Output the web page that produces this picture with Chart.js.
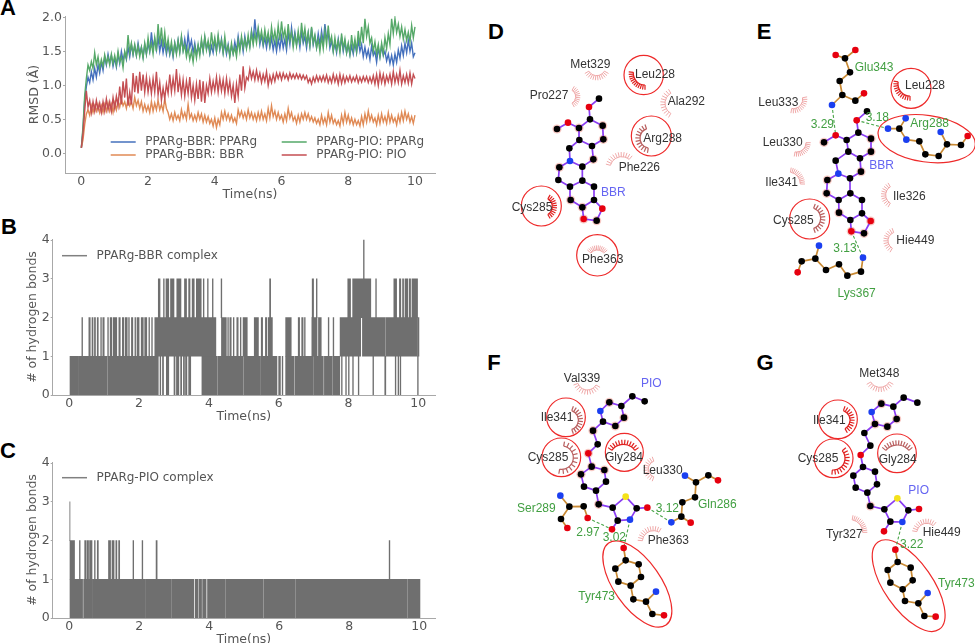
<!DOCTYPE html>
<html>
<head>
<meta charset="utf-8">
<title>PPARg complexes</title>
<script src="https://cdn.jsdelivr.net/npm/chart.js@4/dist/chart.umd.min.js"></script>
<style>
  html, body { margin: 0; padding: 0; background: #fff; width: 975px; height: 643px; overflow: hidden; }
  canvas { position: absolute; filter: blur(0.6px); }
  .letter { position: absolute; font: bold 22px "Liberation Sans", sans-serif; color: #000; line-height: 1; transform: translate(-50%, -50%); }
</style>
</head>
<body>
<div class="letter" style="left:8px;top:8px">A</div>
<div class="letter" style="left:9px;top:227px">B</div>
<div class="letter" style="left:8px;top:451px">C</div>
<div class="letter" style="left:496px;top:32px">D</div>
<div class="letter" style="left:764px;top:32px">E</div>
<div class="letter" style="left:494px;top:363px">F</div>
<div class="letter" style="left:765px;top:363px">G</div>

<canvas id="chartA" width="460" height="208" style="left:0;top:0"></canvas>
<canvas id="chartB" width="460" height="215" style="left:0;top:215px"></canvas>
<canvas id="chartC" width="460" height="210" style="left:0;top:440px"></canvas>
<canvas id="chartD" width="230" height="280" style="left:480px;top:10px"></canvas>
<canvas id="chartE" width="230" height="300" style="left:745px;top:10px"></canvas>
<canvas id="chartF" width="260" height="298" style="left:480px;top:345px"></canvas>
<canvas id="chartG" width="230" height="298" style="left:745px;top:345px"></canvas>

<script>
// RMSD (A), one value every 0.05 ns
const rmsdBbrProtein = [
  0.08,0.35,0.78,0.98,1.12,1.04,1.2,1.08,1.25,1.12,
  1.3,1.18,1.34,1.22,1.42,1.3,1.46,1.33,1.44,1.28,
  1.4,1.27,1.46,1.32,1.5,1.36,1.48,1.38,1.56,1.42,
  1.6,1.45,1.58,1.44,1.62,1.47,1.56,1.42,1.6,1.46,
  1.62,1.5,1.78,1.55,1.68,1.52,1.7,1.5,1.65,1.48,
  1.62,1.46,1.6,1.45,1.58,1.42,1.62,1.48,1.66,1.5,
  1.7,1.52,1.68,1.5,1.75,1.55,1.66,1.48,1.62,1.45,
  1.58,1.48,1.64,1.5,1.7,1.54,1.62,1.46,1.58,1.48,
  1.66,1.5,1.7,1.52,1.68,1.48,1.62,1.46,1.6,1.44,
  1.58,1.47,1.64,1.5,1.72,1.55,1.68,1.5,1.72,1.56,
  1.68,1.58,1.8,1.64,1.97,1.7,1.82,1.6,1.74,1.58,
  1.7,1.55,1.72,1.56,1.7,1.52,1.66,1.5,1.68,1.54,
  1.72,1.55,1.68,1.52,1.78,1.6,1.85,1.62,1.78,1.6,
  1.74,1.56,1.8,1.62,1.72,1.55,1.76,1.58,1.84,1.6,
  1.72,1.56,1.76,1.6,1.8,1.62,1.9,1.68,1.78,1.55,
  1.66,1.5,1.62,1.48,1.68,1.52,1.7,1.5,1.64,1.48,
  1.6,1.45,1.58,1.46,1.62,1.48,1.66,1.5,1.6,1.42,
  1.56,1.42,1.52,1.38,1.58,1.44,1.5,1.34,1.55,1.42,
  1.58,1.44,1.5,1.36,1.46,1.32,1.44,1.3,1.46,1.34,
  1.52,1.4,1.58,1.44,1.62,1.48,1.66,1.5,1.62,1.42,
  1.48
];
const rmsdBbrLigand = [
  0.08,0.2,0.42,0.58,0.64,0.56,0.7,0.6,0.7,0.62,
  0.72,0.6,0.7,0.6,0.72,0.62,0.74,0.62,0.72,0.6,
  0.74,0.64,0.78,0.68,0.8,0.7,0.76,0.66,0.8,0.7,
  0.76,0.66,0.82,0.7,0.78,0.66,0.76,0.62,0.72,0.62,
  0.7,0.6,0.76,0.62,0.74,0.64,0.78,0.64,0.72,0.62,
  0.8,0.66,0.6,0.5,0.58,0.48,0.6,0.5,0.56,0.48,
  0.64,0.52,0.6,0.5,0.72,0.52,0.58,0.48,0.56,0.48,
  0.6,0.5,0.58,0.46,0.56,0.46,0.54,0.44,0.5,0.4,
  0.52,0.38,0.5,0.42,0.6,0.5,0.62,0.5,0.58,0.48,
  0.56,0.46,0.52,0.44,0.64,0.54,0.62,0.52,0.6,0.5,
  0.64,0.52,0.6,0.5,0.58,0.48,0.6,0.5,0.62,0.5,
  0.58,0.48,0.66,0.52,0.7,0.54,0.62,0.5,0.6,0.5,
  0.56,0.46,0.58,0.48,0.66,0.52,0.6,0.48,0.54,0.44,
  0.56,0.46,0.58,0.5,0.6,0.5,0.58,0.48,0.54,0.46,
  0.52,0.44,0.5,0.42,0.56,0.44,0.52,0.42,0.6,0.46,
  0.56,0.44,0.5,0.42,0.48,0.4,0.56,0.44,0.6,0.46,
  0.56,0.44,0.52,0.42,0.5,0.42,0.48,0.4,0.54,0.42,
  0.58,0.46,0.62,0.48,0.56,0.46,0.52,0.42,0.56,0.44,
  0.58,0.46,0.54,0.44,0.6,0.46,0.56,0.46,0.52,0.42,
  0.56,0.46,0.6,0.48,0.62,0.5,0.58,0.46,0.54,0.44,
  0.56
];
const rmsdPioProtein = [
  0.08,0.4,0.85,1.1,1.3,1.22,1.35,1.25,1.48,1.3,
  1.42,1.25,1.38,1.28,1.45,1.32,1.42,1.3,1.46,1.32,
  1.44,1.3,1.5,1.34,1.42,1.26,1.5,1.4,1.74,1.48,
  1.62,1.46,1.6,1.44,1.58,1.42,1.56,1.4,1.62,1.46,
  1.7,1.5,1.62,1.46,1.7,1.5,1.9,1.6,1.85,1.56,
  1.78,1.52,1.68,1.48,1.64,1.45,1.62,1.46,1.66,1.48,
  1.72,1.5,1.6,1.42,1.55,1.38,1.5,1.34,1.56,1.4,
  1.6,1.44,1.68,1.5,1.72,1.52,1.66,1.5,1.78,1.56,
  1.7,1.5,1.74,1.54,1.66,1.48,1.72,1.5,1.58,1.42,
  1.62,1.46,1.56,1.42,1.66,1.5,1.72,1.55,1.68,1.54,
  1.74,1.56,1.78,1.6,1.76,1.62,1.84,1.66,1.8,1.62,
  1.82,1.64,1.78,1.6,1.86,1.66,1.8,1.62,1.88,1.66,
  1.94,1.7,1.82,1.62,1.9,1.66,1.78,1.56,1.74,1.58,
  1.8,1.6,1.92,1.68,1.84,1.62,1.78,1.58,1.86,1.62,
  1.74,1.55,1.68,1.5,1.72,1.54,1.8,1.6,1.88,1.62,
  1.72,1.5,1.7,1.52,1.66,1.48,1.76,1.54,1.68,1.48,
  1.62,1.46,1.74,1.52,1.68,1.5,1.8,1.58,1.86,1.62,
  1.98,1.72,1.86,1.62,1.7,1.5,1.64,1.46,1.6,1.42,
  1.62,1.46,1.7,1.54,1.76,1.6,1.98,1.76,1.98,1.78,
  1.9,1.72,1.86,1.68,1.82,1.66,1.78,1.64,1.88,1.7,
  1.86
];
const rmsdPioLigand = [
  0.08,0.3,0.62,0.92,0.68,0.78,0.6,0.76,0.62,0.78,
  0.64,0.74,0.6,0.76,0.62,0.8,0.64,0.76,0.62,0.82,
  0.66,0.84,0.7,0.98,0.72,1.06,0.82,1.1,0.7,0.9,
  0.72,1.18,0.9,1.14,0.88,1.2,0.92,1.16,0.9,1.12,
  0.9,1.08,0.88,1.1,0.9,1.2,0.86,1.04,0.78,0.96,
  0.8,1.02,0.88,1.16,0.9,1.1,0.92,1.24,0.9,1.1,
  0.86,1.08,0.84,1.06,0.88,1.12,0.82,1.0,0.78,1.02,
  0.8,1.08,0.76,1.06,0.74,1.0,0.88,1.1,0.9,1.06,
  0.92,1.12,0.9,1.1,0.92,1.08,0.88,1.1,0.9,1.06,
  0.84,1.0,0.74,1.02,0.84,1.16,0.92,1.28,0.96,1.12,
  1.08,1.24,1.1,1.2,1.08,1.22,1.08,1.18,1.04,1.16,
  1.06,1.2,1.0,1.14,1.04,1.16,1.06,1.18,1.1,1.18,
  1.08,1.18,1.1,1.16,1.08,1.18,1.1,1.16,1.1,1.17,
  1.1,1.16,1.09,1.15,1.09,1.14,1.04,1.1,1.02,1.12,
  1.05,1.14,1.06,1.13,1.06,1.14,1.06,1.15,1.04,1.12,
  1.04,1.16,1.05,1.14,1.02,1.16,1.03,1.14,1.04,1.13,
  1.06,1.14,1.05,1.12,1.06,1.14,1.04,1.12,1.05,1.13,
  1.06,1.13,1.04,1.12,1.04,1.14,1.02,1.16,1.0,1.18,
  1.04,1.16,1.02,1.14,1.05,1.16,1.02,1.2,1.04,1.16,
  1.04,1.22,1.02,1.14,1.04,1.16,1.03,1.18,1.02,1.16,
  1.1
];
const rmsdStep = 0.05;

const timeTicks = [0, 2, 4, 6, 8, 10];
const rmsdTicks = [0, 0.5, 1, 1.5, 2];
const bondTicks = [0, 1, 2, 3, 4];

// hydrogen bond counts: stretches of time [from, to] (ns) the trajectory spends in each band
const bbrBand01 = [[0.02,0.24],[0.26,1.08],[1.1,2.55],[2.6,2.62],[2.67,2.7],[2.78,2.85],[3.0,3.03],[3.07,3.14],[3.19,3.22],[3.27,3.3],[3.33,3.37],[3.42,3.48],[3.8,4.24],[4.26,4.98],[5.0,5.48],[5.5,5.95],[6.0,6.05],[6.1,6.12],[6.2,6.43],[6.46,6.98],[7.0,7.28],[7.31,7.53],[7.55,7.75],[7.8,7.82],[7.92,7.94],[8.0,8.02],[8.12,8.14],[8.28,8.3],[8.7,8.72],[9.04,9.07],[9.34,9.36],[9.42,9.44],[9.48,9.5],[9.98,10.0]];
const bbrBand12 = [[0.36,0.38],[0.56,0.6],[0.65,0.68],[0.72,0.75],[0.8,0.83],[0.9,0.92],[0.96,1.0],[1.1,1.12],[1.17,1.22],[1.26,1.36],[1.42,1.46],[1.52,1.56],[1.6,1.66],[1.7,1.72],[1.78,1.82],[1.88,1.9],[1.94,2.0],[2.06,2.12],[2.16,2.22],[2.28,2.3],[2.36,2.38],[2.45,4.2],[4.36,4.5],[4.54,4.56],[4.6,4.64],[4.7,4.72],[4.8,4.84],[4.9,4.92],[4.98,5.1],[5.3,5.42],[5.5,5.54],[5.62,5.66],[5.7,5.82],[6.2,6.36],[6.56,6.6],[6.66,6.7],[6.74,6.76],[6.95,7.1],[7.14,7.22],[7.42,7.44],[7.56,7.58],[7.76,8.35],[8.4,9.05],[9.07,9.98],[10.0,10.02]];
const bbrBand23 = [[2.55,2.6],[2.7,2.72],[2.77,2.85],[2.9,3.0],[3.08,3.2],[3.3,3.36],[3.42,3.46],[3.52,3.58],[3.64,3.78],[3.84,3.86],[3.96,3.98],[4.1,4.12],[4.35,4.37],[5.74,5.77],[6.96,7.0],[7.08,7.1],[7.98,8.06],[8.12,8.64],[8.78,8.8],[9.3,9.38],[9.46,9.5],[9.55,9.58],[9.62,9.7],[9.74,9.78],[9.82,9.98]];
const bbrBand34 = [[8.43,8.45]];
const pioBand01 = [[0.02,0.38],[0.41,0.64],[0.66,2.18],[2.2,2.92],[2.94,3.56],[3.6,3.68],[3.71,3.78],[3.81,3.91],[3.95,4.46],[4.48,5.54],[5.56,6.46],[6.48,9.66],[9.68,10.02]];
const pioBand12 = [[0.02,0.15],[0.29,0.31],[0.44,0.47],[0.5,0.55],[0.58,0.65],[0.72,0.74],[0.8,0.83],[1.12,1.18],[1.22,1.28],[1.33,1.36],[1.41,1.44],[1.82,1.84],[2.08,2.1],[2.48,2.51],[9.14,9.16]];
const pioBand23 = [[0.0,0.02]];

// legend names
const rmsdNames = ['PPARg-BBR: PPARg', 'PPARg-BBR: BBR', 'PPARg-PIO: PPARg', 'PPARg-PIO: PIO'];
const bbrComplexName = 'PPARg-BBR complex';
const pioComplexName = 'PPARg-PIO complex';

// ligand/residue diagrams: atoms as [x, y, element] in each diagram's own units
const dLigandAtoms = [[357,266,'c'],[327,291,'o'],[330,328,'c'],[368,347,'c'],[370,388,'c'],[336,408,'c'],[298,390,'c'],[297,354,'c'],[264,338,'o'],[231,357,'c'],[268,415,'c'],[340,448,'c'],[307,470,'c'],[270,453,'n'],[238,472,'c'],[235,510,'c'],[270,530,'c'],[307,512,'c'],[342,530,'c'],[342,570,'c'],[307,592,'c'],[272,570,'c'],[367,596,'o'],[350,632,'c'],[311,627,'o']];
const berberineBonds = [[0,1],[1,2],[2,3],[3,4],[4,5],[5,6],[6,7],[7,2],[7,8],[8,9],[6,10],[5,11],[11,12],[12,13],[13,10],[13,14],[14,15],[15,16],[16,17],[17,12],[17,18],[18,19],[19,20],[20,21],[21,16],[19,22],[22,23],[23,24],[24,20]];
const dHalo = [3,4,7,9,14,20,21,23,24,11];
const dRings = [[491,195,59,59,0],[514,378,60,60,0],[184,588,60,60,0],[352,736,62,62,0]];
const dArcs = [[350,170,27,30,150,'pale'],[495,190,35,90,185,'strong'],[590,280,35,120,240,'pale'],[265,260,22,-60,60,'pale'],[510,385,30,100,250,'mid'],[425,475,35,195,310,'pale'],[190,590,27,-60,60,'strong'],[352,745,25,220,320,'pale']];
const dResidues = [['Met329',331,165],['Leu228',525,194],['Pro227',207,257],['Ala292',619,274],['Arg288',548,385],['Phe226',478,474],['Cys285',156,593],['Phe363',368,748]];
const dLigandName = [['BBR',400,548]];

const eLigandAtoms = [[366,304,'c'],[335,331,'o'],[340,368,'c'],[378,386,'c'],[378,425,'c'],[345,445,'c'],[310,425,'c'],[305,390,'c'],[272,376,'o'],[237,397,'c'],[272,452,'c'],[348,485,'c'],[315,505,'c'],[280,491,'n'],[247,510,'c'],[245,550,'c'],[281,570,'c'],[316,550,'c'],[351,570,'c'],[351,610,'c'],[316,630,'c'],[282,608,'c'],[377,633,'o'],[357,670,'c'],[319,664,'o']];
const eHalo = [3,4,9,14,15,21,23,24,22,11];
const eResidueAtoms = [[272,135,'o'],[331,120,'o'],[300,145,'c'],[315,187,'c'],[284,213,'c'],[292,255,'c'],[331,272,'c'],[357,250,'o'],[261,285,'n'],
  [429,356,'n'],[463,356,'c'],[482,325,'n'],[484,389,'n'],[523,394,'c'],[541,433,'c'],[581,438,'c'],[606,403,'c'],[587,366,'n'],[648,405,'c'],[668,378,'o'],
  [354,743,'n'],[348,785,'c'],[307,797,'c'],[282,763,'c'],[243,780,'c'],[211,746,'c'],[222,707,'n'],[170,754,'c'],[158,787,'o']];
const eResidueBonds = [[0,2],[1,2],[2,3],[3,4],[4,5],[5,6],[6,7],[5,8],
  [9,10],[10,11],[10,12],[12,13],[13,14],[14,15],[15,16],[16,17],[16,18],[18,19],
  [20,21],[21,22],[22,23],[23,24],[24,25],[25,26],[25,27],[27,28]];
const eHBonds = [[[261,285],[272,376]],[[335,331],[429,356]],[[319,664],[354,743]]];
const eRings = [[498,235,60,60,0],[194,627,60,60,0],[545,386,147,70,8]];
const eArcs = [[495,222,36,90,190,'strong'],[145,268,28,-10,100,'pale'],[155,398,28,0,100,'pale'],[130,522,36,-80,0,'pale'],[450,555,28,120,240,'pale'],[455,692,26,120,250,'pale'],[195,625,32,-70,70,'mid']];
const eResidues = [['Leu228',540,226],['Leu333',100,277],['Leu330',113,398],['Ile341',110,519],['Cys285',145,632],['Ile326',493,559],['Hie449',511,691]];
const eContacts = [['3.29',232,345],['3.18',397,323],['3.13',300,715],['Glu343',387,173],['Arg288',554,340],['Lys367',335,851]];
const eLigandName = [['BBR',410,468]];

const fLigandAtoms = [[494,169,'c'],[457,154,'c'],[424,183,'c'],[432,218,'c'],[406,243,'c'],[369,230,'c'],[361,198,'n'],[388,172,'c'],[339,257,'c'],[353,298,'c'],[325,325,'o'],[335,365,'c'],[373,375,'c'],[378,410,'c'],[348,437,'c'],[312,425,'c'],[303,388,'c'],[356,478,'c'],[398,488,'c'],[437,455,'s'],[470,490,'c'],[450,524,'n'],[413,527,'c'],[396,553,'o'],[502,488,'o']];
const pioglitazoneBonds = [[0,1],[1,2],[2,3],[3,4],[4,5],[5,6],[6,7],[7,2],[5,8],[8,9],[9,10],[10,11],[11,12],[12,13],[13,14],[14,15],[15,16],[16,11],[14,17],[17,18],[18,19],[19,20],[20,21],[21,22],[22,18],[22,23],[20,24]];
const fHalo = [3,4,7,8,10,11,12,16,17];
const fResidueAtoms = [[241,452,'n'],[268,485,'c'],[311,484,'c'],[323,519,'o'],[243,522,'c'],[262,549,'o'],
  [615,392,'n'],[648,412,'c'],[685,391,'c'],[714,406,'o'],[645,457,'c'],[607,472,'c'],[604,515,'c'],[574,532,'n'],[632,533,'o'],
  [431,609,'o'],[437,646,'c'],[476,658,'c'],[483,696,'c'],[452,722,'c'],[415,710,'c'],[406,671,'c'],[460,763,'c'],[498,770,'c'],[528,740,'n'],[517,807,'c'],[552,811,'o']];
const fResidueBonds = [[0,1],[1,2],[2,3],[1,4],[4,5],
  [6,7],[7,8],[8,9],[7,10],[10,11],[11,12],[12,13],[12,14],
  [15,16],[16,17],[17,18],[18,19],[19,20],[20,21],[21,16],[19,22],[22,23],[23,24],[23,25],[25,26]];
const fHBonds = [[[323,519],[396,553]],[[450,524],[431,609]],[[502,488],[574,532]]];
const fRings = [[258,217,58,58,0],[244,337,58,58,0],[433,322,57,57,0],[472,717,150,70,55]];
const fArcs = [[322,105,30,30,160,'pale'],[265,225,30,-70,70,'mid'],[245,338,35,-80,100,'mid'],[430,340,42,215,325,'strong'],[530,372,25,110,250,'pale'],[520,590,33,185,300,'pale']];
const fResidues = [['Val339',306,100],['Ile341',231,219],['Cys285',204,338],['Gly284',432,338],['Leu330',548,376],['Phe363',565,586]];
const fContacts = [['Ser289',169,490],['2.97',324,563],['3.02',403,578],['3.12',562,490],['Gln286',712,478],['Tyr473',350,756]];
const fLigandName = [['PIO',514,115]];

const gLigandAtoms = [[517,173,'c'],[476,158,'c'],[445,185,'c'],[455,222,'c'],[427,245,'c'],[390,237,'c'],[380,201,'n'],[409,176,'c'],[358,264,'c'],[376,302,'c'],[347,330,'o'],[354,366,'c'],[390,380,'c'],[396,418,'c'],[367,443,'c'],[332,428,'c'],[325,392,'c'],[376,483,'c'],[418,493,'c'],[457,460,'s'],[490,496,'c'],[472,531,'n'],[436,530,'c'],[417,559,'o'],[522,492,'o']];
const gHalo = [3,4,5,7,17];
const gResidueAtoms = [[451,614,'o'],[458,651,'c'],[497,668,'c'],[503,706,'c'],[473,733,'c'],[436,713,'c'],[428,675,'c'],[480,768,'c'],[520,775,'c'],[548,744,'n'],[538,813,'c'],[572,815,'o']];
const gResidueBonds = [[0,1],[1,2],[2,3],[3,4],[4,5],[5,6],[6,1],[4,7],[7,8],[8,9],[8,10],[10,11]];
const gHBonds = [[[472,531],[451,614]]];
const gRings = [[279,223,58,58,0],[266,340,58,58,0],[456,325,58,58,0],[491,722,160,72,55]];
const gArcs = [[405,95,32,30,150,'pale'],[285,225,30,-70,60,'strong'],[265,340,35,-40,95,'strong'],[457,345,45,220,320,'mid'],[315,562,38,-80,0,'pale'],[545,565,30,190,310,'pale']];
const gResidues = [['Met348',403,87],['Ile341',253,227],['Cys285',219,342],['Gly284',458,343],['Tyr327',298,570],['Hie449',590,562]];
const gContacts = [['3.22',500,598],['Tyr473',634,717]];
const gLigandName = [['PIO',521,438]];

const axisGray = '#a8a8a8';
const textGray = '#555';
const seriesColors = ['#4470bd', '#e08a55', '#55a868', '#c44e52'];
const bandGray = '#6f6f6f';
const elementColors = { c: '#000', o: '#e6000f', n: '#1b3ff0', s: '#f4e21a' };
const arcColors = { pale: '#eda0a0', mid: '#b96060', strong: '#e0201f' };
const contactGreen = '#419f41';
const ligandBlue = '#6565f2';
const residueGray = '#333';

Chart.defaults.animation = false;
Chart.defaults.font.family = '"DejaVu Sans", sans-serif';
Chart.defaults.color = textGray;

// shared axis: fixed space so the plot box lands where it does in the figure
const axis = (min, max, ticks, size, title, titlePadding, format) => ({
    type: 'linear',
    min,
    max,
    offset: false,
    afterBuildTicks: (scale) => { scale.ticks = ticks.map(value => ({ value })); },
    afterFit: (scale) => {
        if (scale.isHorizontal()) scale.height = size; else scale.width = size;
    },
    border: { color: axisGray, width: 1 },
    grid: { display: true, drawOnChartArea: false, color: axisGray, tickLength: 2, offset: false },
    ticks: { padding: 1, autoSkip: false, maxRotation: 0, font: { size: 12.5 }, callback: format },
    title: { display: true, text: title, font: { size: 12.5 }, padding: titlePadding }
});

// time axis sits closer to its labels than the y axes do
const timeAxis = (min, max, size, titleBottom) => {
    const options = axis(min, max, timeTicks, size, 'Time(ns)', { top: 0, bottom: titleBottom });
    options.grid.tickLength = 1;
    options.ticks.padding = 0;
    return options;
};

// legends are drawn inside the plot box, without a frame, as in matplotlib
const legendPlugin = (entries) => ({
    id: 'insideLegend',
    afterDraw: (chart) => {
        const ctx = chart.ctx;
        ctx.save();
        ctx.font = '12px "DejaVu Sans", sans-serif';
        ctx.textBaseline = 'middle';
        ctx.lineWidth = 1.5;
        entries.forEach(e => {
            ctx.strokeStyle = e.color;
            ctx.beginPath();
            ctx.moveTo(e.x, e.y);
            ctx.lineTo(e.x + 25, e.y);
            ctx.stroke();
            ctx.fillStyle = textGray;
            ctx.fillText(e.text, e.x + 34.5, e.y);
        });
        ctx.restore();
    }
});

// Panel A: RMSD curves
const rmsdPoints = (values) => values.map((y, i) => ({ x: i * rmsdStep, y }));
const rmsdSeries = [rmsdBbrProtein, rmsdBbrLigand, rmsdPioProtein, rmsdPioLigand];

new Chart(document.getElementById('chartA'), {
    type: 'scatter',
    data: {
        datasets: rmsdSeries.map((values, i) => ({
            label: rmsdNames[i],
            data: rmsdPoints(values),
            showLine: true,
            borderColor: seriesColors[i],
            borderWidth: 1.4,
            pointRadius: 0,
            order: rmsdSeries.length - i
        }))
    },
    options: {
        responsive: false,
        layout: { autoPadding: false, padding: { top: 16, right: 25 } },
        plugins: { legend: { display: false }, tooltip: { enabled: false } },
        scales: {
            x: timeAxis(-0.49, 10.6, 35, 5.5),
            y: axis(-0.29, 2.02, rmsdTicks, 65, 'RMSD (Å)', { top: 27.5, bottom: 0 }, v => v.toFixed(1))
        }
    },
    plugins: [legendPlugin([
        { text: rmsdNames[0], x: 110.7, y: 142, color: seriesColors[0] },
        { text: rmsdNames[1], x: 110.7, y: 155, color: seriesColors[1] },
        { text: rmsdNames[2], x: 281.7, y: 142, color: seriesColors[2] },
        { text: rmsdNames[3], x: 281.7, y: 155, color: seriesColors[3] }
    ])]
});

// Panels B and C: hydrogen bond bands as floating horizontal bars
const bandBars = (bands) => bands.flatMap((band, level) =>
    band.map(range => ({ x: range, y: level + 0.5 })));

const bondChart = (id, bands, name, legendY, xMin, xMax, layout) => new Chart(document.getElementById(id), {
    type: 'bar',
    data: {
        datasets: [{
            label: name,
            data: bandBars(bands),
            backgroundColor: bandGray,
            borderWidth: 0,
            barPercentage: 1,
            categoryPercentage: 1
        }]
    },
    options: {
        responsive: false,
        indexAxis: 'y',
        layout: { autoPadding: false, padding: { top: layout.top, right: 25 } },
        plugins: { legend: { display: false }, tooltip: { enabled: false } },
        scales: {
            x: timeAxis(xMin, xMax, layout.bottom, layout.titleBottom),
            y: axis(0, 4.03, bondTicks, 52.7, '# of hydrogen bonds', { top: 25, bottom: 0 })
        }
    },
    plugins: [legendPlugin([{ text: name, x: 62, y: legendY, color: '#808080' }])]
});

bondChart('chartB', [bbrBand01, bbrBand12, bbrBand23, bbrBand34], bbrComplexName, 40.7, -0.476, 10.48,
    { top: 24, bottom: 35, titleBottom: 5.5 });
bondChart('chartC', [pioBand01, pioBand12, pioBand23], pioComplexName, 37.7, -0.474, 10.45,
    { top: 22, bottom: 32, titleBottom: 2.5 });

// Panels D to G: one scatter chart per diagram
const bondPoints = (atoms, bonds) => bonds.flatMap(([a, b]) => [
    { x: atoms[a][0], y: atoms[a][1] },
    { x: atoms[b][0], y: atoms[b][1] },
    { x: null, y: null }
]);
const hBondPoints = (hBonds) => hBonds.flatMap(([a, b]) => [
    { x: a[0], y: a[1] },
    { x: b[0], y: b[1] },
    { x: null, y: null }
]);
const atomPoints = (atoms) => atoms.map(a => ({ x: a[0], y: a[1] }));
const atomColors = (atoms) => atoms.map(a => elementColors[a[2]]);

const linesDataset = (data, color, order, width, dash) => ({
    data,
    showLine: true,
    spanGaps: false,
    borderColor: color,
    borderWidth: width,
    borderDash: dash || [],
    pointRadius: 0,
    order
});

// rings and eyelash arcs under the atoms, residue names over them
const diagramPlugin = (panel) => ({
    id: 'diagramMarks',
    beforeDatasetsDraw: (chart) => {
        const { ctx, scales: { x, y } } = chart;
        const unit = Math.abs(x.getPixelForValue(1) - x.getPixelForValue(0));
        ctx.save();
        panel.arcs.forEach(([cx, cy, r, from, to, tone]) => {
            const px = x.getPixelForValue(cx);
            const py = y.getPixelForValue(cy);
            const start = from * Math.PI / 180;
            const end = to * Math.PI / 180;
            ctx.strokeStyle = arcColors[tone];
            ctx.lineWidth = tone === 'pale' ? 0.9 : 1.2;
            ctx.beginPath();
            ctx.arc(px, py, r * unit, start, end);
            ctx.stroke();
            for (let i = 0; i <= 11; i++) {
                const angle = start + (end - start) * i / 11;
                ctx.beginPath();
                ctx.moveTo(px + Math.cos(angle) * r * unit, py + Math.sin(angle) * r * unit);
                ctx.lineTo(px + Math.cos(angle) * (r + 14) * unit, py + Math.sin(angle) * (r + 14) * unit);
                ctx.stroke();
            }
        });
        ctx.strokeStyle = '#ee2a2a';
        ctx.lineWidth = 1.2;
        panel.rings.forEach(([cx, cy, rx, ry, tilt]) => {
            ctx.beginPath();
            ctx.ellipse(x.getPixelForValue(cx), y.getPixelForValue(cy), rx * unit, ry * unit, tilt * Math.PI / 180, 0, Math.PI * 2);
            ctx.stroke();
        });
        ctx.restore();
    },
    afterDraw: (chart) => {
        const { ctx, scales: { x, y } } = chart;
        ctx.save();
        ctx.font = '12px "Liberation Sans", sans-serif';
        ctx.textAlign = 'center';
        ctx.textBaseline = 'middle';
        const put = (labels, color) => {
            ctx.fillStyle = color;
            labels.forEach(([text, lx, ly]) => ctx.fillText(text, x.getPixelForValue(lx), y.getPixelForValue(ly)));
        };
        put(panel.residues, residueGray);
        put(panel.contacts || [], contactGreen);
        put(panel.ligandName, ligandBlue);
        ctx.restore();
    }
});

const diagramChart = (id, width, height, panel) => {
    const allAtoms = panel.ligand.concat(panel.residueAtoms || []);
    new Chart(document.getElementById(id), {
        type: 'scatter',
        data: {
            datasets: [
                {
                    data: atomPoints(allAtoms),
                    pointRadius: 3.3,
                    pointBackgroundColor: atomColors(allAtoms),
                    pointBorderWidth: 0,
                    order: 1
                },
                linesDataset(bondPoints(panel.ligand, panel.ligandBonds), '#8a3df2', 2, 1.7),
                linesDataset(bondPoints(panel.residueAtoms || [], panel.residueBonds || []), '#c98a35', 3, 1.7),
                linesDataset(hBondPoints(panel.hBonds || []), '#4aa64a', 4, 1.1, [3, 2]),
                {
                    data: panel.halo.map(i => ({ x: panel.ligand[i][0], y: panel.ligand[i][1] })),
                    pointRadius: 4.6,
                    pointBackgroundColor: '#f7c9c4',
                    pointBorderWidth: 0,
                    order: 5
                }
            ]
        },
        options: {
            responsive: false,
            layout: { autoPadding: false, padding: 0 },
            plugins: { legend: { display: false }, tooltip: { enabled: false } },
            scales: {
                x: { type: 'linear', display: false, min: 0, max: width },
                y: { type: 'linear', display: false, min: 0, max: height, reverse: true }
            }
        },
        plugins: [diagramPlugin(panel)]
    });
};

diagramChart('chartD', 690, 840, {
    ligand: dLigandAtoms, ligandBonds: berberineBonds, halo: dHalo, rings: dRings, arcs: dArcs,
    residues: dResidues, ligandName: dLigandName
});
diagramChart('chartE', 690, 900, {
    ligand: eLigandAtoms, ligandBonds: berberineBonds, halo: eHalo, rings: eRings, arcs: eArcs,
    residueAtoms: eResidueAtoms, residueBonds: eResidueBonds, hBonds: eHBonds,
    residues: eResidues, contacts: eContacts, ligandName: eLigandName
});
diagramChart('chartF', 780, 894, {
    ligand: fLigandAtoms, ligandBonds: pioglitazoneBonds, halo: fHalo, rings: fRings, arcs: fArcs,
    residueAtoms: fResidueAtoms, residueBonds: fResidueBonds, hBonds: fHBonds,
    residues: fResidues, contacts: fContacts, ligandName: fLigandName
});
diagramChart('chartG', 690, 894, {
    ligand: gLigandAtoms, ligandBonds: pioglitazoneBonds, halo: gHalo, rings: gRings, arcs: gArcs,
    residueAtoms: gResidueAtoms, residueBonds: gResidueBonds, hBonds: gHBonds,
    residues: gResidues, contacts: gContacts, ligandName: gLigandName
});
</script>
</body>
</html>
